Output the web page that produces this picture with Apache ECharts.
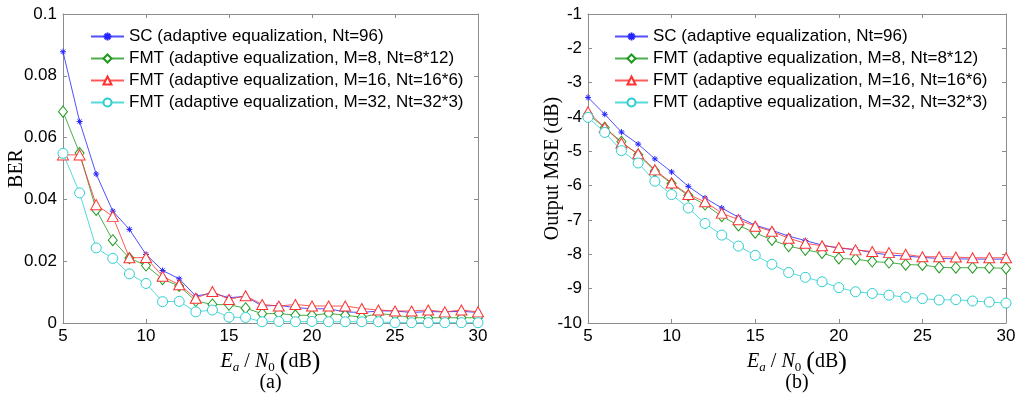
<!DOCTYPE html>
<html><head><meta charset="utf-8">
<script src="https://cdn.jsdelivr.net/npm/echarts@6/dist/echarts.min.js"></script>
<style>html,body{margin:0;padding:0;background:#fff}#c{width:1024px;height:398px}</style>
</head><body><div id="c"></div>
<script>
const snr = [5,6,7,8,9,10,11,12,13,14,15,16,17,18,19,20,21,22,23,24,25,26,27,28,29,30];
const names = ['SC (adaptive equalization, Nt=96)','FMT (adaptive equalization, M=8, Nt=8*12)','FMT (adaptive equalization, M=16, Nt=16*6)','FMT (adaptive equalization, M=32, Nt=32*3)'];
const berSC   = [0.0878,0.0652,0.0482,0.0362,0.0303,0.0222,0.0170,0.0143,0.0087,0.0097,0.0082,0.0086,0.0055,0.0057,0.0050,0.0046,0.0046,0.0036,0.0034,0.0039,0.0039,0.0034,0.0037,0.0036,0.0038,0.0034];
const berFMT8 = [0.0684,0.0550,0.0366,0.0268,0.0210,0.0186,0.0142,0.0120,0.0071,0.0060,0.0059,0.0048,0.0030,0.0031,0.0025,0.0025,0.0031,0.0025,0.0019,0.0030,0.0026,0.0017,0.0017,0.0017,0.0017,0.0017];
const berFMT16= [0.0544,0.0544,0.0383,0.0345,0.0211,0.0212,0.0151,0.0124,0.0080,0.0102,0.0076,0.0088,0.0060,0.0055,0.0060,0.0055,0.0055,0.0055,0.0047,0.0042,0.0039,0.0039,0.0042,0.0036,0.0042,0.0036];
const berFMT32= [0.0549,0.0421,0.0243,0.0209,0.0159,0.0128,0.0069,0.0070,0.0036,0.0042,0.0019,0.0018,0.0004,0.0005,0.0004,0.0005,0.0004,0.0004,0.0004,0.0004,0.0001,0.0001,0.0001,0.0001,0.0001,0.0001];
const mseSC   = [-3.43,-3.92,-4.44,-4.79,-5.22,-5.60,-6.02,-6.36,-6.65,-6.92,-7.15,-7.30,-7.47,-7.60,-7.73,-7.82,-7.86,-7.95,-8.02,-8.05,-8.09,-8.12,-8.13,-8.14,-8.14,-8.14];
const mseFMT8 = [-3.92,-4.31,-4.72,-5.10,-5.57,-5.94,-6.29,-6.55,-6.89,-7.16,-7.37,-7.58,-7.76,-7.87,-7.96,-8.12,-8.14,-8.21,-8.24,-8.30,-8.31,-8.38,-8.39,-8.39,-8.39,-8.41];
const mseFMT16= [-3.85,-4.31,-4.76,-5.07,-5.54,-5.92,-6.26,-6.47,-6.80,-6.99,-7.18,-7.33,-7.53,-7.68,-7.75,-7.80,-7.87,-7.92,-7.95,-8.00,-8.07,-8.07,-8.08,-8.10,-8.10,-8.10];
const mseFMT32= [-4.01,-4.45,-4.98,-5.34,-5.87,-6.26,-6.65,-7.10,-7.44,-7.76,-8.03,-8.29,-8.53,-8.67,-8.80,-8.97,-9.09,-9.14,-9.19,-9.25,-9.29,-9.33,-9.32,-9.36,-9.39,-9.42];
const xTicks = ['5','10','15','20','25','30'];
const berTicks = ['0','0.02','0.04','0.06','0.08','0.1'];
const mseTicks = ['-10','-9','-8','-7','-6','-5','-4','-3','-2','-1'];

const styles = [
  {color:'#2424ff', symbol:'path://M0,-10L0,10M-10,0L10,0M-7,-7L7,7M-7,7L7,-7', size:6},
  {color:'#1f9a1f', symbol:'diamond', size:[9,11]},
  {color:'#ff3030', symbol:'triangle', size:[11,10]},
  {color:'#2ccfcf', symbol:'circle', size:10}
];
const AX = '#8c8c8c';
const sans = 'Liberation Sans, Arial, sans-serif';
const serif = 'Liberation Serif, Times New Roman, serif';

function xName(tag){
  return '{i|E}{sa|a}{n| / }{i|N}{s0|0}{n| }{p|(}{n|dB}{p|)}\n{n2|(' + tag + ')}';
}
const xRich = {
  i:{fontFamily:serif, fontStyle:'italic', fontSize:20, lineHeight:24, color:'#000'},
  sa:{fontFamily:serif, fontStyle:'italic', fontSize:13, lineHeight:10, verticalAlign:'bottom', color:'#000'},
  s0:{fontFamily:serif, fontSize:13, lineHeight:10, verticalAlign:'bottom', color:'#000'},
  n:{fontFamily:serif, fontSize:20, lineHeight:24, color:'#000'},
  p:{fontFamily:serif, fontSize:26, lineHeight:24, color:'#000'},
  n2:{fontFamily:serif, fontSize:20, lineHeight:18, color:'#000'}
};

function xAxisMain(gi, tag){
  return {type:'value', gridIndex:gi, min:5, max:30, interval:5,
    axisLine:{lineStyle:{color:AX}}, axisTick:{inside:true, length:4, lineStyle:{color:AX}},
    splitLine:{show:false},
    axisLabel:{color:'#000', fontFamily:sans, fontSize:17, margin:5, formatter:v=>xTicks[Math.round((v-5)/5)]},
    name:xName(tag), nameLocation:'middle', nameGap:27, nameMoveOverlap:false, nameTextStyle:{rich:xRich}};
}
function boxAxis(type, gi, pos, min, max, interval){
  return {type:'value', gridIndex:gi, position:pos, min:min, max:max, interval:interval,
    axisLine:{show:true, onZero:false, lineStyle:{color:AX}}, axisTick:{inside:true, length:4, lineStyle:{color:AX}},
    axisLabel:{show:false}, splitLine:{show:false}};
}

const berData = [berSC, berFMT8, berFMT16, berFMT32];
const mseData = [mseSC, mseFMT8, mseFMT16, mseFMT32];
const series = [];
[berData, mseData].forEach((set, gi) => {
  set.forEach((arr, k) => {
    const s = styles[k];
    series.push({
      type:'line', name:names[k], xAxisIndex:gi*2, yAxisIndex:gi*2,
      data: snr.map((x,j)=>[x, arr[j]]),
      symbol:s.symbol, symbolSize:s.size, showSymbol:true,
      lineStyle:{color:s.color, width:1, opacity:0.8},
      itemStyle:{color:'#ffffff', borderColor:s.color, borderWidth:1},
      emphasis:{disabled:true}, animation:false, z:2+k
    });
  });
});

const legendBase = {orient:'vertical', itemWidth:33, itemHeight:10, itemGap:5,
  textStyle:{color:'#000', fontFamily:sans, fontSize:17, lineHeight:17}, selectedMode:false};

const option = {
  backgroundColor:'#fff',
  animation:false,
  grid:[
    {left:63, top:14, width:415, height:310},
    {left:588, top:14, width:418, height:311}
  ],
  legend:[
    Object.assign({}, legendBase, {left:85, top:23, data:names}),
    Object.assign({}, legendBase, {left:609, top:23, data:names})
  ],
  xAxis:[
    xAxisMain(0,'a'),
    boxAxis('x',0,'top',5,30,5),
    xAxisMain(1,'b'),
    boxAxis('x',1,'top',5,30,5)
  ],
  yAxis:[
    {type:'value', gridIndex:0, min:0, max:0.1, interval:0.02,
      axisLine:{show:true, lineStyle:{color:AX}}, axisTick:{show:true, inside:true, length:4, lineStyle:{color:AX}},
      splitLine:{show:false},
      axisLabel:{color:'#000', fontFamily:sans, fontSize:17, margin:6, formatter:v=>berTicks[Math.round(v/0.02)]},
      name:'BER', nameLocation:'middle', nameGap:36, nameRotate:90, nameMoveOverlap:false,
      nameTextStyle:{fontFamily:serif, fontSize:20, color:'#000'}},
    boxAxis('y',0,'right',0,0.1,0.02),
    {type:'value', gridIndex:1, min:-10, max:-1, interval:1,
      axisLine:{show:true, onZero:false, lineStyle:{color:AX}}, axisTick:{show:true, inside:true, length:4, lineStyle:{color:AX}},
      splitLine:{show:false},
      axisLabel:{color:'#000', fontFamily:sans, fontSize:17, margin:6, formatter:v=>mseTicks[Math.round(v+10)]},
      name:'Output MSE (dB)', nameLocation:'middle', nameGap:25, nameRotate:90, nameMoveOverlap:false,
      nameTextStyle:{fontFamily:serif, fontSize:20, color:'#000'}},
    boxAxis('y',1,'right',-10,-1,1)
  ],
  series:series
};
const chart = echarts.init(document.getElementById('c'), null, {renderer:'canvas'});
chart.setOption(option);
</script></body></html>
